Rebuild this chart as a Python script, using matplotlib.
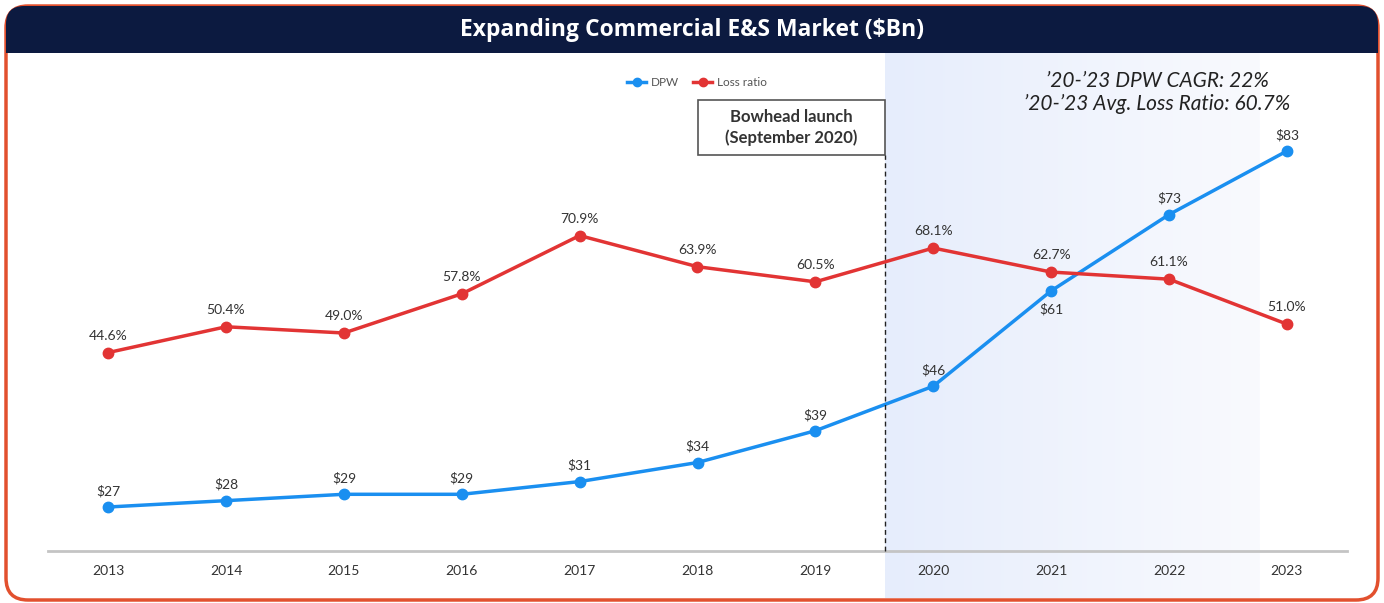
import numpy as np
import matplotlib.pyplot as plt
from matplotlib.patches import FancyBboxPatch, Rectangle

years = ['2013', '2014', '2015', '2016', '2017', '2018', '2019', '2020', '2021', '2022', '2023']
dpw = [27, 28, 29, 29, 31, 34, 39, 46, 61, 73, 83]
loss_ratio = [44.6, 50.4, 49.0, 57.8, 70.9, 63.9, 60.5, 68.1, 62.7, 61.1, 51.0]
dpw_labels = ['$27', '$28', '$29', '$29', '$31', '$34', '$39', '$46', '$61', '$73', '$83']
launch_pos = 6.59

W, H = 1384, 603
blue = '#1a8ff0'
red = '#e23434'
text_col = '#333333'

plt.rcParams['font.family'] = ['Lato', 'DejaVu Sans']

fig = plt.figure(figsize=(W / 100, H / 100), dpi=100)

# background layer in pixel coordinates
bg = fig.add_axes([0, 0, 1, 1])
bg.set_xlim(0, W)
bg.set_ylim(H, 0)
bg.axis('off')

frame = FancyBboxPatch((6, 6), W - 12, H - 9, boxstyle='round,pad=0,rounding_size=22',
                       facecolor='white', edgecolor='#e2502e', linewidth=2.5, zorder=1)
bg.add_patch(frame)

# shaded post-launch period
grad = np.linspace(0, 1, 256)[None, :]
c0 = np.array([230, 237, 252]) / 255
c1 = np.array([249, 250, 254]) / 255
img = c0[None, None, :] * (1 - grad[..., None]) + c1[None, None, :] * grad[..., None]
bg.imshow(img, extent=(885, 1260, 598, 52), aspect='auto', zorder=2)

header = FancyBboxPatch((6, 6), W - 12, 46, boxstyle='round,pad=0,rounding_size=18',
                        facecolor='#0c1a40', edgecolor='none', zorder=3)
bg.add_patch(header)
bg.add_patch(Rectangle((6, 30), W - 12, 23, facecolor='#0c1a40', edgecolor='none', zorder=3))
bg.text(W / 2, 30, 'Expanding Commercial E&S Market ($Bn)', color='white',
        fontsize=16.5, fontweight='bold', ha='center', va='center', zorder=4,
        family=['Open Sans', 'DejaVu Sans'])

# launch callout box
bg.add_patch(Rectangle((698, 100), 187, 55, facecolor='white', edgecolor='#555555', lw=1.2, zorder=4))
bg.text(791.5, 127.5, 'Bowhead launch\n(September 2020)', ha='center', va='center',
        fontsize=12, fontweight='bold', color=text_col, linespacing=1.3, zorder=5)

# main chart
left, right, top, bottom = 48, 1347, 70, 551
ax = fig.add_axes([left / W, 1 - bottom / H, (right - left) / W, (bottom - top) / H])
ax.patch.set_alpha(0)
x = np.arange(len(years))
ax.set_xlim(-0.51, 10.51)
ax.set_ylim(20.08, 20.08 + (bottom - top) / 6.357)

ax2 = ax.twinx()
ax2.set_ylim(0, (bottom - top) / 4.449)

for a in (ax, ax2):
    for s in a.spines.values():
        s.set_visible(False)
    a.set_yticks([])
ax.spines['bottom'].set_visible(True)
ax.spines['bottom'].set_color('#c4c4c4')
ax.spines['bottom'].set_linewidth(2)
ax.set_xticks(x)
ax.set_xticklabels(years, fontsize=10, color=text_col)
ax.tick_params(axis='x', length=0, pad=10)

l1, = ax.plot(x, dpw, color=blue, lw=2.5, marker='o', ms=7.5, label='DPW', zorder=5)
l2, = ax2.plot(x, loss_ratio, color=red, lw=2.5, marker='o', ms=7.5, label='Loss ratio', zorder=5)

for i, (v, lab) in enumerate(zip(dpw, dpw_labels)):
    off = -13 if lab == '$61' else 11.5
    ax.annotate(lab, (x[i], v), xytext=(0, off), textcoords='offset points',
                ha='center', va='center', fontsize=10, color=text_col)
for i, v in enumerate(loss_ratio):
    ax2.annotate(f'{v:.1f}%', (x[i], v), xytext=(0, 12), textcoords='offset points',
                 ha='center', va='center', fontsize=10, color=text_col)

# dashed launch marker, from the axis up to the callout box
ax2.plot([launch_pos, launch_pos], [0, (bottom - 155) / 4.449], color='#222222', lw=1,
         ls=(0, (3.5, 2.5)), zorder=3, clip_on=False)

ax.text(8.9, 92.2, '\u201920-\u201923 DPW CAGR: 22%\n\u201920-\u201923 Avg. Loss Ratio: 60.7%',
        ha='center', va='center', fontsize=15, style='italic', color='#222222', linespacing=1.2)

leg = ax.legend(handles=[l1, l2], loc='center', bbox_to_anchor=((697 - left) / (right - left), 1 - (83 - top) / (bottom - top)),
                ncol=2, frameon=False, fontsize=8.5, handlelength=1.6, columnspacing=1.2,
                markerscale=0.8, handletextpad=0.4)
for t in leg.get_texts():
    t.set_color('#555555')

fig.savefig('out.png', dpi=100)
